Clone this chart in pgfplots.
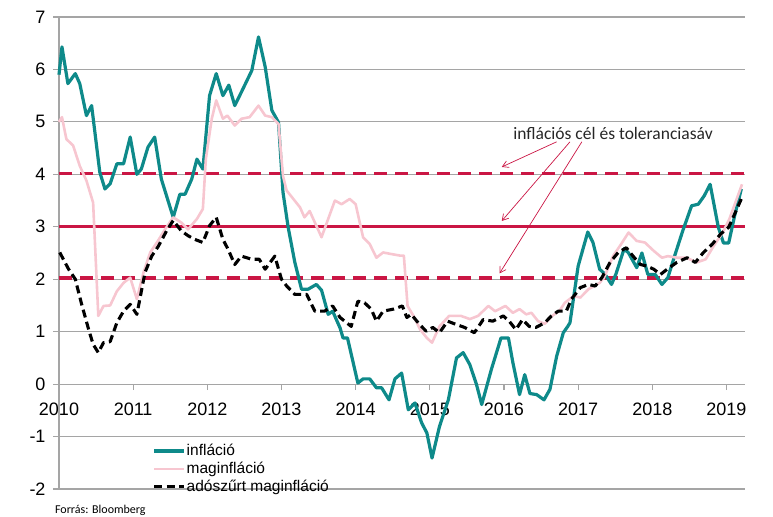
\documentclass[border=0pt]{standalone}
\usepackage{fontspec}
\setmainfont{Liberation Sans}
\newfontfamily\calibri{Carlito}
\usepackage{pgfplots}
\pgfplotsset{compat=1.18}
\usetikzlibrary{arrows.meta}

\definecolor{infl}{RGB}{14,138,138}
\definecolor{core}{RGB}{247,198,208}
\definecolor{target}{RGB}{202,22,68}
\definecolor{gridc}{RGB}{165,165,165}

\begin{document}
\begin{tikzpicture}
\begin{axis}[
    scale only axis,
    width=686pt, height=472pt,
    xmin=2010, xmax=2019.25,
    ymin=-2, ymax=7,
    axis x line*=middle,
    axis y line*=left,
    axis line style={gridc, line width=1.1pt},
    xtick={2010,2011,...,2019},
    ytick={-2,-1,...,7},
    hide obscured x ticks=false,
    ymajorgrids,
    grid style={gridc, line width=1.1pt},
    tick style={gridc, line width=1.1pt},
    tick align=outside,
    major tick length=6pt,
    x tick label style={/pgf/number format/1000 sep={}, yshift=-9pt},
    y tick label style={xshift=-4pt},
    ticklabel style={font=\fontsize{18}{20}\selectfont},
    /pgf/number format/assume math mode=true,
    clip=false,
    legend image code/.code={\draw[#1] (0pt,0pt) -- (30pt,0pt);},
    legend style={draw=none, fill=none, at={(rel axis cs:0.136,0.099)}, anchor=north west,
        font=\fontsize{15.5}{17}\selectfont, row sep=1pt, inner sep=0pt,
        nodes={inner xsep=1pt}},
    legend cell align=left,
]

% inflációs cél (3%) és toleranciasáv (2-4%)
\addplot[target, line width=3.4pt, dash pattern=on 13pt off 8pt, forget plot] coordinates {(2010,4.02) (2019.25,4.02)};
\addplot[target, line width=3.4pt, forget plot] coordinates {(2010,3) (2019.25,3)};
\addplot[target, line width=3.4pt, dash pattern=on 13pt off 8pt, forget plot] coordinates {(2010,2.02) (2019.25,2.02)};

% infláció
\addplot[infl, line width=3.2pt, line join=round] coordinates {
(2010.00,5.9)(2010.04,6.43)(2010.12,5.73)(2010.22,5.92)(2010.28,5.73)(2010.37,5.12)(2010.44,5.31)
(2010.55,4.04)(2010.62,3.72)(2010.69,3.82)(2010.78,4.2)(2010.87,4.2)(2010.96,4.71)(2011.05,4.0)
(2011.11,4.1)(2011.2,4.52)(2011.29,4.71)(2011.38,3.91)(2011.54,3.18)(2011.63,3.62)(2011.7,3.62)
(2011.79,3.91)(2011.86,4.29)(2011.94,4.1)(2012.03,5.5)(2012.12,5.92)(2012.21,5.5)(2012.29,5.7)
(2012.37,5.31)(2012.46,5.57)(2012.6,5.98)(2012.69,6.62)(2012.78,6.05)(2012.87,5.22)(2012.96,4.99)
(2013.02,3.66)(2013.09,2.99)(2013.18,2.32)(2013.27,1.81)(2013.36,1.81)(2013.47,1.9)(2013.54,1.79)
(2013.63,1.33)(2013.69,1.39)(2013.79,1.07)(2013.83,0.88)(2013.89,0.88)(2014.03,0.02)(2014.1,0.1)
(2014.19,0.1)(2014.28,-0.07)(2014.35,-0.07)(2014.45,-0.3)(2014.53,0.1)(2014.62,0.21)(2014.71,-0.49)
(2014.8,-0.36)(2014.89,-0.74)(2014.96,-0.93)(2015.03,-1.41)(2015.13,-0.81)(2015.25,-0.3)(2015.36,0.5)
(2015.45,0.6)(2015.54,0.37)(2015.63,-0.01)(2015.7,-0.39)(2015.83,0.28)(2015.96,0.88)(2016.06,0.88)
(2016.12,0.41)(2016.21,-0.2)(2016.28,0.18)(2016.35,-0.18)(2016.44,-0.2)(2016.54,-0.3)(2016.62,-0.1)
(2016.71,0.53)(2016.8,0.98)(2016.86,1.1)(2016.89,1.17)(2017.0,2.25)(2017.13,2.9)(2017.2,2.7)
(2017.29,2.19)(2017.36,2.1)(2017.45,1.9)(2017.51,2.1)(2017.62,2.58)(2017.68,2.5)(2017.79,2.22)
(2017.86,2.5)(2017.94,2.09)(2018.04,2.09)(2018.13,1.9)(2018.21,2.03)(2018.3,2.44)(2018.41,2.92)
(2018.53,3.4)(2018.62,3.43)(2018.7,3.59)(2018.78,3.81)(2018.89,2.99)(2018.96,2.69)(2019.03,2.69)
(2019.11,3.21)(2019.2,3.72)
};
\addlegendentry{infláció}

% maginfláció
\addplot[core, line width=2.6pt, line join=round] coordinates {
(2010.0,5.0)(2010.04,5.09)(2010.1,4.67)(2010.19,4.55)(2010.28,4.16)(2010.37,3.88)(2010.46,3.46)
(2010.53,1.3)(2010.6,1.49)(2010.69,1.5)(2010.78,1.77)(2010.87,1.93)(2010.96,2.03)(2011.05,1.62)
(2011.14,2.13)(2011.23,2.51)(2011.32,2.7)(2011.43,2.95)(2011.54,3.18)(2011.65,3.08)(2011.74,2.95)
(2011.86,3.15)(2011.94,3.34)(2011.98,4.29)(2012.06,5.06)(2012.12,5.41)(2012.21,5.06)(2012.27,5.12)
(2012.37,4.93)(2012.46,5.06)(2012.57,5.09)(2012.69,5.31)(2012.78,5.12)(2012.87,5.09)(2012.96,4.96)
(2013.02,3.97)(2013.07,3.69)(2013.16,3.53)(2013.25,3.37)(2013.31,3.18)(2013.38,3.3)(2013.54,2.8)
(2013.63,3.15)(2013.72,3.5)(2013.81,3.43)(2013.92,3.53)(2014.0,3.43)(2014.1,2.8)(2014.19,2.67)
(2014.28,2.41)(2014.37,2.51)(2014.48,2.48)(2014.6,2.45)(2014.65,2.45)(2014.7,1.49)(2014.78,1.3)
(2014.87,1.04)(2014.96,0.88)(2015.03,0.79)(2015.13,1.1)(2015.26,1.3)(2015.42,1.3)(2015.54,1.24)
(2015.65,1.3)(2015.79,1.49)(2015.88,1.39)(2016.02,1.49)(2016.12,1.36)(2016.21,1.43)(2016.3,1.33)
(2016.37,1.36)(2016.46,1.2)(2016.55,1.15)(2016.65,1.3)(2016.75,1.4)(2016.82,1.55)(2016.94,1.68)
(2017.03,1.65)(2017.14,1.81)(2017.29,1.93)(2017.36,2.06)(2017.47,2.44)(2017.58,2.67)(2017.68,2.89)
(2017.79,2.73)(2017.9,2.7)(2018.02,2.54)(2018.13,2.41)(2018.21,2.44)(2018.33,2.41)(2018.46,2.41)
(2018.6,2.32)(2018.72,2.38)(2018.83,2.64)(2018.95,2.89)(2019.04,3.15)(2019.12,3.46)(2019.21,3.81)
};
\addlegendentry{maginfláció}

% adószűrt maginfláció
\addplot[black, line width=3.1pt, dash pattern=on 8pt off 4.5pt, line join=round] coordinates {
(2010.01,2.51)(2010.13,2.19)(2010.22,2.0)(2010.3,1.55)(2010.4,1.04)(2010.46,0.76)(2010.53,0.6)
(2010.6,0.79)(2010.69,0.81)(2010.78,1.17)(2010.87,1.39)(2010.96,1.52)(2011.05,1.33)(2011.16,2.13)
(2011.25,2.44)(2011.34,2.63)(2011.45,2.92)(2011.54,3.12)(2011.65,2.92)(2011.74,2.83)(2011.83,2.76)
(2011.94,2.7)(2012.03,3.02)(2012.12,3.18)(2012.21,2.76)(2012.28,2.57)(2012.37,2.28)(2012.46,2.44)
(2012.6,2.38)(2012.7,2.38)(2012.78,2.19)(2012.91,2.44)(2013.0,2.0)(2013.07,1.87)(2013.18,1.71)
(2013.34,1.71)(2013.45,1.39)(2013.58,1.39)(2013.69,1.49)(2013.79,1.27)(2013.94,1.1)(2014.03,1.58)
(2014.12,1.55)(2014.21,1.43)(2014.28,1.2)(2014.37,1.39)(2014.51,1.43)(2014.63,1.49)(2014.69,1.27)
(2014.75,1.33)(2014.86,1.14)(2014.95,1.01)(2015.04,1.08)(2015.13,0.98)(2015.24,1.2)(2015.35,1.14)
(2015.47,1.08)(2015.6,0.98)(2015.72,1.23)(2015.85,1.2)(2015.99,1.3)(2016.07,1.2)(2016.16,1.04)
(2016.25,1.23)(2016.34,1.1)(2016.43,1.08)(2016.55,1.17)(2016.64,1.3)(2016.73,1.39)(2016.84,1.39)
(2016.91,1.62)(2017.03,1.84)(2017.14,1.9)(2017.23,1.87)(2017.32,2.03)(2017.43,2.32)(2017.54,2.51)
(2017.65,2.6)(2017.74,2.44)(2017.84,2.28)(2017.93,2.25)(2018.02,2.19)(2018.11,2.09)(2018.2,2.19)
(2018.33,2.32)(2018.47,2.41)(2018.58,2.32)(2018.69,2.51)(2018.81,2.67)(2018.92,2.86)(2019.03,2.99)
(2019.1,3.21)(2019.2,3.53)
};
\addlegendentry{adószűrt maginfláció}

% annotation
\node[font=\calibri\fontsize{17.5}{19}\selectfont, text=black!85] at (axis cs:2017.47,4.77) {inflációs cél és toleranciasáv};
\draw[target, line width=0.7pt, -{Straight Barb[length=6pt,width=7pt]}] (axis cs:2016.71,4.62) -- (axis cs:2015.97,4.14);
\draw[target, line width=0.7pt, -{Straight Barb[length=6pt,width=7pt]}] (axis cs:2016.89,4.62) -- (axis cs:2015.97,3.11);
\draw[target, line width=0.7pt, -{Straight Barb[length=6pt,width=7pt]}] (axis cs:2017.05,4.62) -- (axis cs:2015.94,2.11);

\node[font=\calibri\fontsize{12}{14}\selectfont, anchor=west, inner sep=0pt] at (rel axis cs:-0.006,-0.045) {Forrás: Bloomberg};

\coordinate (sw) at (rel axis cs:0,0);
\coordinate (ne) at (rel axis cs:1,1);
\end{axis}
\path ([shift={(-59pt,-28pt)}]sw) rectangle ([shift={(28pt,17pt)}]ne);
\end{tikzpicture}
\end{document}
